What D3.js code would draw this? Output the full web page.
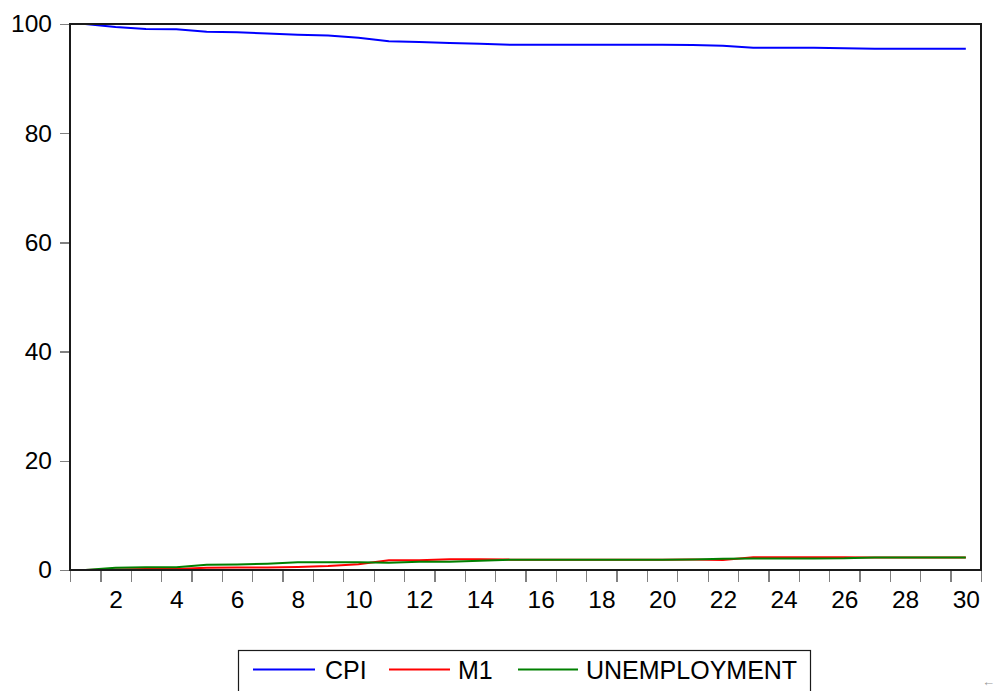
<!DOCTYPE html>
<html>
<head>
<meta charset="utf-8">
<script src="https://cdn.jsdelivr.net/npm/d3@7"></script>
<style>
  html, body { margin: 0; padding: 0; background: #fff; }
  svg { display: block; font-family: Arial, "Liberation Sans", sans-serif; }
</style>
</head>
<body>
<svg id="chart" width="997" height="691"></svg>
<script>
const periods = d3.range(1, 31);
const cpi = [100, 99.45, 99.1, 99.05, 98.6, 98.5, 98.25, 98.05, 97.9, 97.5,
             96.85, 96.7, 96.5, 96.4, 96.2, 96.2, 96.2, 96.2, 96.2, 96.2,
             96.15, 96.0, 95.65, 95.65, 95.65, 95.55, 95.45, 95.45, 95.45, 95.45];
const m1 = [0, 0.1, 0.2, 0.2, 0.43, 0.45, 0.45, 0.55, 0.72, 1.05,
            1.78, 1.78, 1.95, 1.95, 1.9, 1.9, 1.9, 1.9, 1.9, 1.9,
            1.92, 1.85, 2.32, 2.32, 2.32, 2.32, 2.27, 2.27, 2.27, 2.27];
const unemployment = [0, 0.4, 0.5, 0.5, 0.97, 1.0, 1.15, 1.4, 1.4, 1.42,
                      1.35, 1.52, 1.52, 1.68, 1.9, 1.9, 1.9, 1.9, 1.9, 1.9,
                      1.93, 2.08, 2.12, 2.12, 2.12, 2.13, 2.27, 2.27, 2.27, 2.27];
const yTicks = [0, 20, 40, 60, 80, 100];
const xLabels = [2, 4, 6, 8, 10, 12, 14, 16, 18, 20, 22, 24, 26, 28, 30];
const seriesNames = ["CPI", "M1", "UNEMPLOYMENT"];
const seriesColors = ["#0000ff", "#ff0000", "#008000"];
const seriesData = [cpi, m1, unemployment];

const svg = d3.select("#chart");
const L = 70, R = 981, T = 24, B = 570;
const FS = 24.5;

const x = d3.scaleLinear().domain([0.5, 30.5]).range([L, R]);
const y = d3.scaleLinear().domain([0, 100]).range([B, T]);

// y axis
const yAx = svg.append("g").attr("transform", `translate(${L},0)`)
  .call(d3.axisLeft(y).tickValues(yTicks).tickSize(10).tickPadding(8));
yAx.select(".domain").remove();
yAx.selectAll(".tick line").attr("stroke", "#808080").attr("stroke-width", 1.3).attr("shape-rendering", "crispEdges");
yAx.selectAll(".tick text").attr("font-size", FS).attr("fill", "#000")
  .attr("font-family", "Arial, 'Liberation Sans', sans-serif");

// x axis: tick marks at band boundaries
const xTickAx = svg.append("g").attr("transform", `translate(0,${B})`)
  .call(d3.axisBottom(x).tickValues(d3.range(0, 31).map(k => k + 0.5)).tickSize(12).tickFormat(""));
xTickAx.select(".domain").remove();
xTickAx.selectAll(".tick line").attr("stroke", "#808080").attr("stroke-width", 1.3).attr("shape-rendering", "crispEdges");

// x labels centred on observations
const xLabAx = svg.append("g").attr("transform", `translate(0,${B})`)
  .call(d3.axisBottom(x).tickValues(xLabels).tickSize(0).tickPadding(21));
xLabAx.select(".domain").remove();
xLabAx.selectAll(".tick text").attr("font-size", FS).attr("fill", "#000")
  .attr("font-family", "Arial, 'Liberation Sans', sans-serif");

// lines
const line = d3.line().x((d, i) => x(periods[i])).y(d => y(d));
seriesData.forEach((s, i) => {
  svg.append("path").datum(s)
    .attr("fill", "none")
    .attr("stroke", seriesColors[i])
    .attr("stroke-width", 2)
    .attr("d", line);
});

// frame
svg.append("rect").attr("x", L).attr("y", T).attr("width", R - L).attr("height", B - T)
  .attr("fill", "none").attr("stroke", "#1a1a1a").attr("stroke-width", 1.5)
  .attr("shape-rendering", "crispEdges");

// legend
const lg = svg.append("g");
lg.append("rect").attr("x", 238.5).attr("y", 650.5).attr("width", 572).attr("height", 60)
  .attr("fill", "#fff").attr("stroke", "#1a1a1a").attr("stroke-width", 1.2);
const legendItems = [
  { x1: 253, x2: 315, tx: 325 },
  { x1: 389, x2: 450, tx: 458 },
  { x1: 518, x2: 578, tx: 586 }
];
legendItems.forEach((it, i) => {
  lg.append("line").attr("x1", it.x1).attr("x2", it.x2).attr("y1", 669.5).attr("y2", 669.5)
    .attr("stroke", seriesColors[i]).attr("stroke-width", 2);
  lg.append("text").attr("x", it.tx).attr("y", 679).attr("font-size", 25).attr("fill", "#000")
    .text(seriesNames[i]);
});

svg.append("text").attr("x", 995).attr("y", 686).attr("text-anchor", "end")
  .attr("font-size", 13).attr("fill", "#999").text("←");
</script>
</body>
</html>
